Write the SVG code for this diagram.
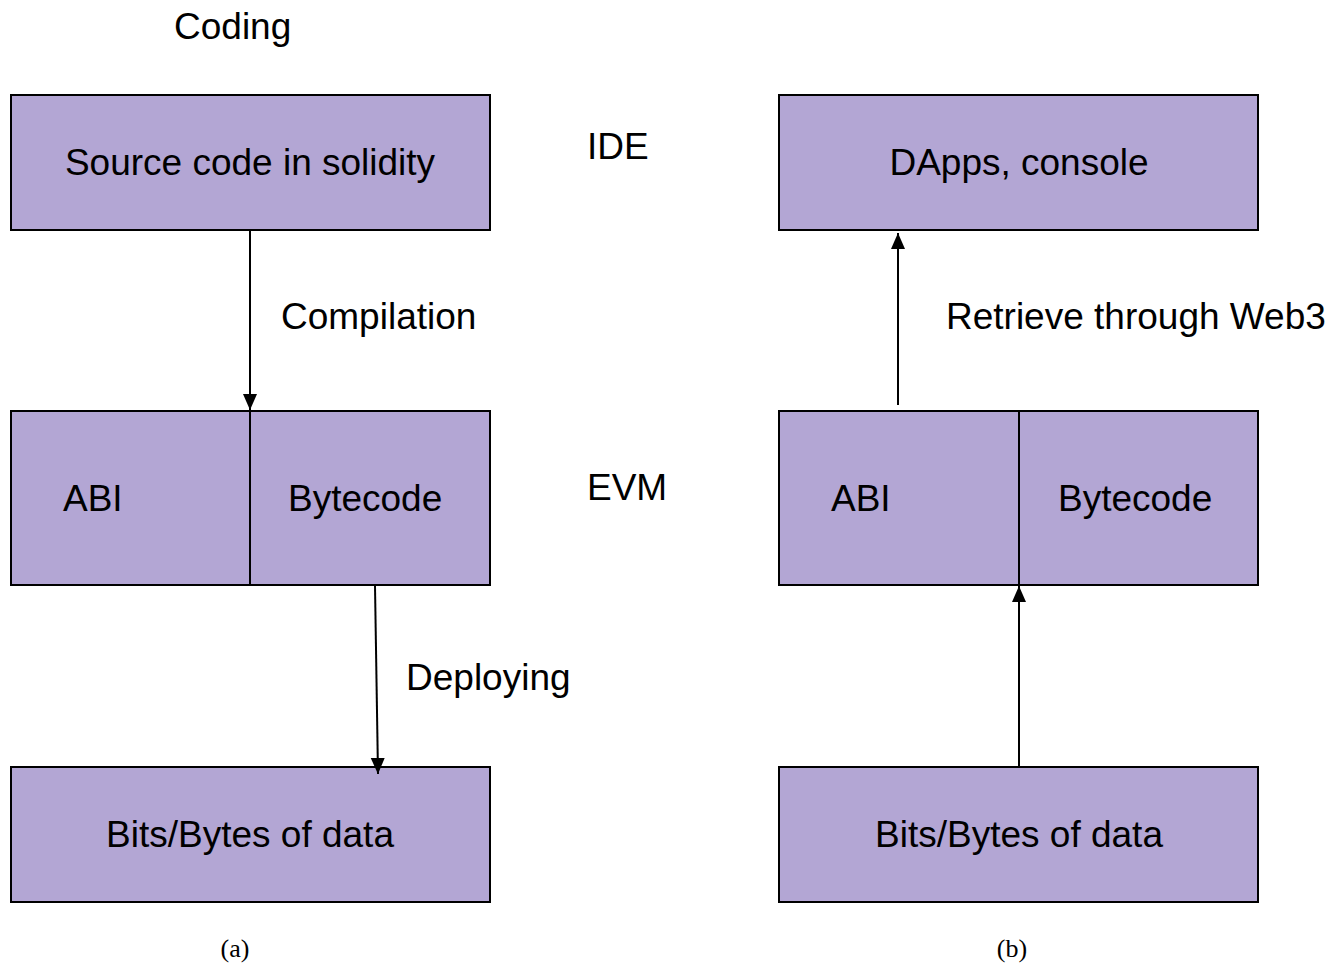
<svg xmlns="http://www.w3.org/2000/svg" width="1341" height="964" viewBox="0 0 1341 964">
<style>
.box{fill:#B3A6D4;stroke:#000;stroke-width:2}
.t{font-family:"Liberation Sans",Arial,sans-serif;font-size:37px;fill:#000}
.c{text-anchor:middle}
.cap{font-family:"Liberation Serif","Times New Roman",serif;font-size:26px;fill:#000;text-anchor:middle}
.ln{stroke:#000;stroke-width:2;fill:none;marker-end:url(#ah)}
</style>
<defs>
<marker id="ah" markerUnits="userSpaceOnUse" viewBox="0 0 16 16" refX="16" refY="8" markerWidth="16" markerHeight="16" orient="auto">
<path d="M0,1 L16,8 L0,15 Z" fill="#000"/>
</marker>
</defs>
<rect width="1341" height="964" fill="#fff"/>
<text class="t" x="174" y="39">Coding</text>
<text class="t" x="587" y="159">IDE</text>
<text class="t" x="587" y="500">EVM</text>
<g id="src"><rect class="box" x="11" y="95" width="479" height="135"/><text class="t c" x="250" y="175">Source code in solidity</text></g>
<g id="evmA"><rect class="box" x="11" y="411" width="479" height="174"/><line x1="250" y1="411" x2="250" y2="585" stroke="#000" stroke-width="2"/><text class="t" x="63" y="511">ABI</text><text class="t" x="288" y="511">Bytecode</text></g>
<g id="dataA"><rect class="box" x="11" y="767" width="479" height="135"/><text class="t c" x="250" y="847">Bits/Bytes of data</text></g>
<g id="dapps"><rect class="box" x="779" y="95" width="479" height="135"/><text class="t c" x="1019" y="175">DApps, console</text></g>
<g id="evmB"><rect class="box" x="779" y="411" width="479" height="174"/><line x1="1019" y1="411" x2="1019" y2="585" stroke="#000" stroke-width="2"/><text class="t" x="831" y="511">ABI</text><text class="t" x="1058" y="511">Bytecode</text></g>
<g id="dataB"><rect class="box" x="779" y="767" width="479" height="135"/><text class="t c" x="1019" y="847">Bits/Bytes of data</text></g>
<g id="connectors">
<line class="ln" x1="250" y1="231" x2="250" y2="410"/>
<line class="ln" x1="375" y1="586" x2="378" y2="774"/>
<line class="ln" x1="898" y1="405" x2="898" y2="233"/>
<line class="ln" x1="1019" y1="766" x2="1019" y2="586"/>
</g>
<text class="t" x="281" y="329">Compilation</text>
<text class="t" x="406" y="690">Deploying</text>
<text class="t" x="946" y="329">Retrieve through Web3</text>
<text class="cap" x="235" y="957">(a)</text>
<text class="cap" x="1012" y="957">(b)</text>
</svg>
